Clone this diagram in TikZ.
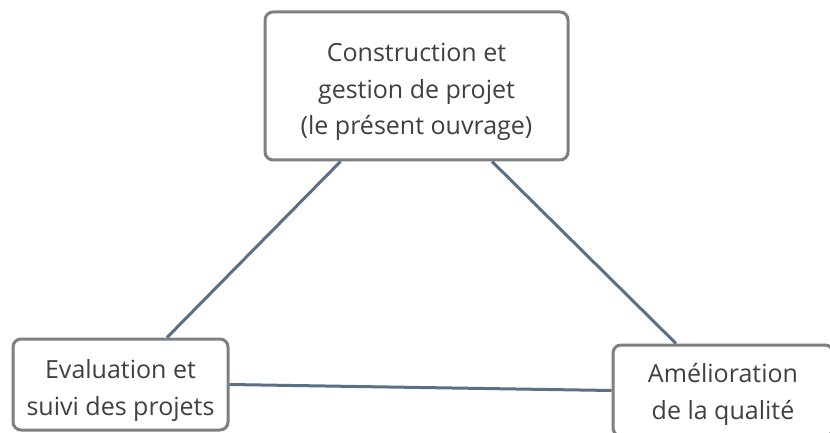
\documentclass[tikz,border=0pt]{standalone}
\usepackage{fontspec}
\setmainfont{Open Sans}
\definecolor{boxline}{HTML}{7F7F7F}
\definecolor{linkline}{HTML}{5B6F85}
\definecolor{txt}{HTML}{404040}
\begin{document}
\begin{tikzpicture}[x=1pt,y=-1pt,
  topic/.style={draw=boxline, line width=3pt, rounded corners=8pt, fill=white,
    inner sep=0pt},
  caption/.style={align=center, text=txt, inner sep=0pt,
    font=\fontsize{25}{36.5}\selectfont},
  link/.style={draw=linkline, line width=3pt}]
  \useasboundingbox (0,0) rectangle (830,433);
  \clip (0,0) rectangle (830,433);
  % the three topic boxes
  \node[topic, minimum width=303pt, minimum height=148pt] (top) at (416.5,86) {};
  \node[topic, minimum width=215pt, minimum height=91pt] (left) at (120.5,384.5) {};
  \node[topic, minimum width=220pt, minimum height=91pt] (right) at (723,390.5) {};
  % their texts
  \node[caption, yshift=-6pt] (topText) at (top.center)
    {Construction et\\gestion de projet\\(le présent ouvrage)};
  \node[caption, yshift=-6pt] (leftText) at (left.center)
    {Evaluation et\\suivi des projets};
  \node[caption, yshift=-4pt] (rightText) at (right.center)
    {Amélioration\\de la qualité};
  % connectors between the topics
  \draw[link] ([xshift=-76pt]top.south) -- ([xshift=46.5pt]left.north);
  \draw[link] ([xshift=75.5pt]top.south) -- ([xshift=-47pt]right.north);
  \draw[link] (left.east) -- (right.west);
\end{tikzpicture}
\end{document}
